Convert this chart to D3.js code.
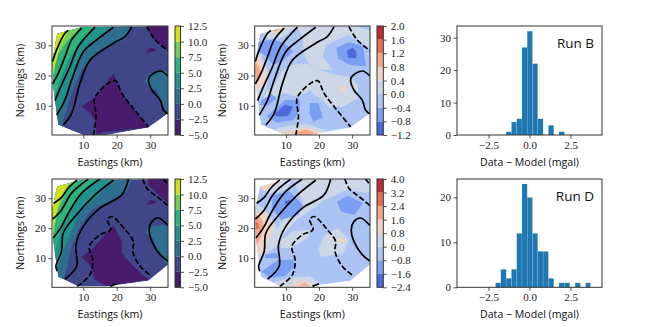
<!DOCTYPE html>
<html lang="en">
<head>
	<meta charset="UTF-8">
	<title>Run B and Run D residuals</title>
	<script src="https://d3js.org/d3.v7.min.js"></script>
	<style>
		body, html {
			margin: 0;
			padding: 0;
			background: #fff;
			overflow: hidden;
		}
		svg {
			display: block;
		}
		.tick text {
			font-family: "Liberation Serif", serif;
			font-size: 11px;
			fill: #222;
		}
		.tick line {
			stroke: #222;
			stroke-width: 0.8;
		}
		.frame {
			fill: none;
			stroke: #333;
			stroke-width: 1;
		}
		.axis-label {
			font-family: "Open Sans", sans-serif;
			font-size: 10.6px;
			fill: #111;
			text-anchor: middle;
		}
		.run-label {
			font-family: "Open Sans", sans-serif;
			font-size: 13.5px;
			fill: #111;
			text-anchor: end;
		}
	</style>
</head>
<body>
<div id="chart"></div>
	<script>
		// Colour levels of the contour plots
		const modelLevels = [-5, -2.5, 0, 2.5, 5, 7.5, 10, 12.5];
		const diffLevelsB = [-1.2, -0.8, -0.4, 0, 0.4, 0.8, 1.2, 1.6, 2];
		const diffLevelsD = [-2.4, -1.6, -0.8, 0, 0.8, 1.6, 2.4, 3.2, 4];
		const coolwarmBands = ["#4b69d9", "#7b9ff2", "#abc4f4", "#cdd7e8", "#f0d3c4", "#f5a98a", "#e5705a", "#bf2d30"];

		// Outline of the data area, in km [easting, northing]
		const hullRow1 = [[2.2,33.8],[9.5,36],[35.4,36.4],[35.4,7.5],[29.5,2.8],[17,0.3],[10,0.3],[2.5,3.6],[1,16.5],[0.8,25]];
		const hullRow2 = [[2.2,33.9],[9.5,36.1],[35.4,36.4],[35.4,7.9],[29.5,2.5],[17,0.6],[8.5,0.6],[2.5,3.8],[1,16.2],[0.8,26.7]];

		// Filled areas as [band index, polygon], painted in order over the base band
		const fillsRunA = [
			[2, [[24.5,36.4],[22.5,31.8],[18,30.1],[13,26.2],[9.5,21.8],[6.5,14.1],[5,8.6],[3.5,3.6],[-1,3.6],[-1,36.4]]],
			[2, [[28.2,18],[29.5,20.7],[35.4,21.5],[35.4,7.5],[34.5,8.6],[32,15.2],[30,15.7]]],
			[3, [[18.5,36.4],[17.5,35.1],[12,29.6],[9.5,27.3],[6.5,19.6],[4.5,13],[2.5,7.5],[-1,7.5],[-1,36.4]]],
			[4, [[14,36.4],[9,31.2],[5.5,25.1],[3,18.5],[1.5,13],[-1,13],[-1,36.4]]],
			[5, [[9.5,36.2],[5.5,31.8],[2.5,27.3],[1,20.7],[0.8,16.3],[-1,16.3],[-1,36.4]]],
			[6, [[2.2,33.8],[5.5,34.9],[3,29.6],[1.5,23.5],[0.8,19],[-1,19],[-1,33.8]]],
			[0, [[9.5,9.7],[13.5,12.8],[19,20.7],[20,18],[21.5,14.1],[25,9.1],[29.5,2.8],[16,1.3],[14,0.2],[13.5,5.2],[12,7.5]]],
			[0, [[29,36.4],[35.4,36.4],[35.4,28.2],[31.5,31.8]]],
			[0, [[28.7,27.3],[30,29.3],[32,28.5],[30.5,27.9]]]
		];
		const fillsRunC = [
			[2, [[24.5,36.4],[23,32.2],[19.5,30],[12.5,26.1],[9,20.6],[6.5,13.9],[5,6.2],[4,2.9],[-1,2.9],[-1,36.4]]],
			[2, [[28.5,18.4],[29.5,20.6],[35.4,21.1],[35.4,7.9],[34.5,8.4],[32,12.8],[31,16.7]]],
			[3, [[19,36.4],[17,33.9],[12,28.3],[9,26.1],[7,20.6],[4.5,13.9],[2.5,7.3],[-1,7.3],[-1,36.4]]],
			[4, [[14,36.4],[9,31.1],[5.5,25],[3,18.9],[1.5,11.7],[-1,11.7],[-1,36.4]]],
			[5, [[8.5,36.1],[5.5,32.8],[2.8,27.2],[1.5,21.1],[1,16.2],[-1,16.2],[-1,36.4]]],
			[6, [[2.2,33.9],[6,35.2],[3.5,31.1],[2,25.6],[1,19.5],[0.8,17.3],[-1,17.3],[-1,33.9]]],
			[0, [[9.5,10.4],[13,13.4],[19,21.1],[21.5,15.6],[21.5,11.7],[25,7.3],[29.5,2.9],[17,0.7],[13.5,2.9],[12.2,7.3]]],
			[0, [[29.5,36.4],[35.4,36.4],[35.4,28.3],[32,31.7],[29.5,34.4]]],
			[0, [[28.7,27.8],[30.2,29.4],[32.2,28.7],[30.5,28]]]
		];
		const fillsRunB = [
			[3, [[13.4,36.4],[36.2,36.4],[36.2,28.7],[28.7,33.4],[22.2,30.1],[21,26.2],[24.2,21.8],[19.7,22],[16.7,24.4],[15.2,27.3],[15.2,31.8]]],
			[3, [[1.7,8.6],[4.2,14.6],[6.7,16.9],[8.7,21.3],[11.2,23.5],[16.7,24],[20.2,21.8],[23.7,20.5],[29.2,19.6],[31.7,16.9],[31.7,12.4],[27.2,9.7],[23.2,9.4],[20.7,11.9],[17.2,15.2],[13.7,12.8],[10.2,14.1],[7.7,13.5],[4.2,12.5]]],
			[3, [[0.4,27.3],[2.2,27.3],[5,20.7],[4.2,15.7],[2.2,11.9],[0.4,14.1]]],
			[3, [[3.7,32.9],[6.2,36.4],[13.4,36.4],[10.7,34],[8.2,32.3],[5.2,32]]],
			[3, [[4.2,0.8],[8.2,2.8],[16.2,4.1],[23.2,1.4],[23.2,0]]],
			[2, [[30.7,36.4],[35.2,36.4],[35.2,35]]],
			[4, [[0.4,26.2],[2,26.2],[4.2,20.7],[3.2,16.9],[1.2,15.2],[0.4,16.9]]],
			[5, [[0.4,24.6],[1.4,24],[2.7,20.7],[1.7,18],[0.4,18]]],
			[6, [[0.4,23],[1,21.8],[0.8,19.6],[0.4,19.6]]],
			[4, [[5.2,35.1],[7.2,36],[10.7,36.2],[8.7,34.5],[6.2,33.8]]],
			[5, [[5.7,34.9],[8.2,35.6],[7.2,34.5]]],
			[1, [[1.4,30.9],[6.2,32],[9.7,30.7],[12.2,27.9],[8.7,24.6],[6.2,23.5],[4.2,26.2],[2.2,27.9]]],
			[1, [[25.2,29.3],[29.2,31],[33.2,29.8],[34.2,23],[29.2,23.5],[25.7,25.7]]],
			[0, [[28.4,28.2],[30.2,29.2],[31.2,27.9],[31.2,25.7],[28.7,25.9]]],
			[1, [[4.2,6.4],[9.7,11.9],[14.2,11.9],[14.2,8.6],[12.2,5.2],[7.2,4.4]]],
			[0, [[6.2,6.9],[9.7,10.2],[12.2,9.7],[10.7,6.6],[7.7,6.4]]],
			[1, [[2.7,11.9],[5.7,13.9],[7.2,12.4],[4.7,10.2],[2.2,10.2]]],
			[1, [[17.2,10.8],[19.7,11],[21.2,6],[18.2,4.7],[17.2,7.5]]],
			[4, [[7.2,1],[12.2,1.9],[16.2,2.8],[21.2,1],[21.2,0],[7.2,0]]],
			[5, [[12.7,1],[16.2,2.2],[19.2,0.6],[14.2,0.2]]],
			[4, [[25.7,15.7],[27.2,16.9],[28.7,15.2],[27.2,14.3]]]
		];
		const fillsRunD = [
			[3, [[12.2,36.4],[35.2,36.4],[35.2,31.7],[28.2,32.8],[21.7,29.4],[16.2,25],[13.2,22.8],[9.7,18.4],[8.2,15],[3.7,11.1],[2.2,11.1],[2.7,16.9],[6,18],[9.5,23],[15,29]]],
			[3, [[2.2,33],[6,36.4],[12.2,36.4],[10,33],[6,31.5]]],
			[3, [[0.4,28.3],[3.2,26.7],[7.2,21.1],[6.7,16.2],[2.7,10.1],[1.2,9.5],[0.4,10.1]]],
			[3, [[19.7,12.8],[21.7,17.8],[25.7,20],[29.2,16.2],[27.2,11.7],[20.7,10.4]]],
			[3, [[8.2,15.6],[12.2,18.9],[17.2,19.5],[16.7,16.7],[11.7,13.4],[8.7,13.4]]],
			[3, [[5,0],[6.2,1.8],[11.2,3.4],[17.2,4],[20.7,1.2],[20.7,0]]],
			[4, [[0.4,25],[3.7,25.6],[6.2,20.6],[4.7,15.6],[2.7,11.7],[1.2,10.6],[0.4,13.9]]],
			[5, [[0.4,24.5],[2.2,24],[3.7,20.6],[2.2,16.2],[1.2,14.5],[0.4,17.3]]],
			[6, [[0.4,23],[1.7,21.7],[2.2,20],[0.4,19.5]]],
			[4, [[2.2,33.9],[6.2,35.9],[8.7,36.1],[6.2,33.9],[3.2,32.2]]],
			[1, [[6.2,31.1],[11.2,32.2],[15.2,27.8],[13.7,24.5],[8.7,22.8],[5.7,26.7]]],
			[0, [[9.7,29],[11.2,29.5],[11.2,27.8],[10,27.8]]],
			[1, [[25.4,28.9],[28.7,30.8],[33.2,28.3],[30.7,24.4],[26.7,25.5]]],
			[1, [[2.7,5.6],[7.7,9.5],[12.2,9.5],[12.7,7.3],[9.7,4],[5.2,3.4]]],
			[1, [[3.7,11.2],[7.2,11.7],[7.7,10.1],[3.7,10.1]]],
			[4, [[10.2,0.4],[15.2,2.6],[19.2,0.9],[19.2,0],[10.2,0]]],
			[5, [[13.7,0.9],[15.7,1.8],[17.2,0.7]]],
			[4, [[25,16],[26.7,17.1],[28.2,15.6],[26.7,14.9]]]
		];

		// Black contour lines of the model, same for both maps of a row
		const solidLinesRow1 = [
			[[0.8,24.6],[2,28.5],[4.5,34],[5.5,34.9]],
			[[0.8,17.2],[2.5,20.7],[4.5,26.2],[6.5,31.8],[9.5,35.7]],
			[[1.5,11.7],[3.5,16.9],[6,22.9],[8.5,29.6],[13.5,36]],
			[[2,6.9],[4.5,11.9],[6.5,18.5],[10,27.9],[14,31.8],[19,36]],
			[[4,3.6],[6.5,7.5],[9,17.4],[12,25.1],[19,30.7],[22.5,32.9],[24.5,36.2]],
			[[35.4,19.8],[33,21.5],[30,19.8],[29.5,18.5],[30.5,15.2],[33,11.9],[34,8.6],[35.3,7.3]]
		];
		const dashedLinesRow1 = [
			[[29,36.2],[31.5,31.8],[35.4,28.2]],
			[[13,0.2],[13.8,6.4],[13.5,12.8],[19.5,18.3],[21.5,14.1],[25,9.1],[29.5,3]]
		];
		const solidLinesRow2 = [
			[[1.2,28.3],[3.5,30.3],[5.5,33.4],[8.2,36.1]],
			[[0.8,23],[3.5,26.1],[6.5,31.7],[11.5,36.4]],
			[[1,16.7],[3.5,20.6],[5.5,25],[9.5,31.7],[15,36.4]],
			[[2.2,5.7],[1.8,7.3],[3.5,12.3],[4,18.4],[7.5,23.9],[13.5,31.1],[19,36]],
			[[4.5,3],[8,7.3],[7.8,14.5],[10,20.6],[15,26.7],[21.5,31.1],[23.5,36.4]],
			[[35.4,9],[33,11.2],[30.5,15.6],[29.7,19.5],[30.5,22.2],[32.5,23.4],[35.4,20.8]],
			[[18,0.6],[20,1.5]]
		];
		const dashedLinesRow2 = [
			[[27.8,36.4],[29,33.3],[32,30.6],[35.4,27.5]],
			[[34,36.4],[35.4,34.4]],
			[[8.2,0.6],[12,4.5],[12.8,9.5],[11.8,13.9],[15,17.8],[18.2,19.5],[17.2,22.8],[18.5,23.9],[22.5,19.5],[25,15.6],[24.8,12.3],[27,7.3],[30.5,4]]
		];

		// Histograms of data minus model
		const histEdgesB = [-1.42, -1.1, -0.78, -0.46, -0.14, 0.18, 0.5, 0.83, 1.15, 1.48, 1.8, 2.13];
		const histCountsB = [1, 4, 5, 27, 32, 22, 5, 0, 3, 0, 1];
		const histEdgesD = [-2.07, -1.75, -1.42, -1.1, -0.78, -0.46, -0.14, 0.18, 0.5, 0.83, 1.15, 1.48, 1.8, 2.13, 2.45, 2.78, 3.1, 3.42, 3.72];
		const histCountsD = [1, 4, 2, 4, 12, 23, 20, 12, 8, 8, 2, 0, 1, 1, 0, 1, 0, 1];

		const svg = d3.select("#chart")
			.append("svg")
			.attr("width", 654)
			.attr("height", 327);

		let clipCount = 0;

		// Viridis sampled at the middle of each level band
		function viridisBands(levels) {
			const n = levels.length - 1;
			return d3.range(n).map(i => d3.interpolateViridis((i + 0.5) / n));
		}

		function addFrame(left, right, top, bottom) {
			svg.append("rect")
				.attr("class", "frame")
				.attr("x", left)
				.attr("y", top)
				.attr("width", right - left)
				.attr("height", bottom - top);
		}

		function styleAxis(g) {
			g.select(".domain").remove();
		}

		// Contour map: filled bands clipped to the hull, then the black lines
		function drawMap(box, hull, fills, baseBand, colors, solid, dashed) {
			const x = d3.scaleLinear().domain([0.63, 35.35]).range([box.left, box.right]);
			const y = d3.scaleLinear().domain([0.3, 36.4]).range([box.bottom, box.top]);
			const polygon = d3.line().x(d => x(d[0])).y(d => y(d[1])).curve(d3.curveLinearClosed);
			const contour = d3.line().x(d => x(d[0])).y(d => y(d[1])).curve(d3.curveCatmullRom);

			const hullId = "hull" + (clipCount++);
			const boxId = "box" + (clipCount++);
			const defs = svg.append("defs");
			defs.append("clipPath").attr("id", hullId)
				.append("path").attr("d", polygon(hull));
			defs.append("clipPath").attr("id", boxId)
				.append("rect")
				.attr("x", box.left)
				.attr("y", box.top)
				.attr("width", box.right - box.left)
				.attr("height", box.bottom - box.top);

			const area = svg.append("g").attr("clip-path", `url(#${boxId})`);
			const filled = area.append("g").attr("clip-path", `url(#${hullId})`);
			filled.append("path").attr("d", polygon(hull)).attr("fill", colors[baseBand]);
			filled.selectAll(".band")
				.data(fills)
				.enter()
				.append("path")
				.attr("class", "band")
				.attr("d", d => polygon(d[1]))
				.attr("fill", d => colors[d[0]]);

			area.selectAll(".solid")
				.data(solid)
				.enter()
				.append("path")
				.attr("class", "solid")
				.attr("d", contour)
				.attr("fill", "none")
				.attr("stroke", "#000")
				.attr("stroke-width", 1.7);
			area.selectAll(".dashed")
				.data(dashed)
				.enter()
				.append("path")
				.attr("class", "dashed")
				.attr("d", contour)
				.attr("fill", "none")
				.attr("stroke", "#000")
				.attr("stroke-width", 1.7)
				.attr("stroke-dasharray", "5.5,2.4");

			svg.append("g")
				.attr("transform", `translate(0,${box.bottom})`)
				.call(d3.axisBottom(x).tickValues([10, 20, 30]).tickSize(3.5).tickPadding(2.5))
				.call(styleAxis);
			svg.append("g")
				.attr("transform", `translate(${box.left},0)`)
				.call(d3.axisLeft(y).tickValues([10, 20, 30]).tickSize(3.5).tickPadding(2.5))
				.call(styleAxis);
			addFrame(box.left, box.right, box.top, box.bottom);

			svg.append("text")
				.attr("class", "axis-label")
				.attr("x", (box.left + box.right) / 2)
				.attr("y", box.bottom + 31)
				.text("Eastings (km)");
			svg.append("text")
				.attr("class", "axis-label")
				.attr("transform", `translate(${box.left - 28.5},${(box.top + box.bottom) / 2}) rotate(-90)`)
				.text("Northings (km)");
		}

		function drawColorbar(box, levels, colors, format) {
			const y = d3.scaleLinear().domain(d3.extent(levels)).range([box.bottom, box.top]);
			svg.selectAll(null)
				.data(colors)
				.enter()
				.append("rect")
				.attr("x", box.left)
				.attr("width", box.right - box.left)
				.attr("y", (d, i) => y(levels[i + 1]))
				.attr("height", (d, i) => y(levels[i]) - y(levels[i + 1]))
				.attr("fill", d => d);
			svg.append("g")
				.attr("transform", `translate(${box.right},0)`)
				.call(d3.axisRight(y).tickValues(levels).tickFormat(format).tickSize(3.5).tickPadding(4))
				.call(styleAxis);
			addFrame(box.left, box.right, box.top, box.bottom);
		}

		function drawHist(box, edges, counts, yMax, yTicks, name) {
			const x = d3.scaleLinear().domain([-4.42, 4.42]).range([box.left, box.right]);
			const y = d3.scaleLinear().domain([0, yMax]).range([box.bottom, box.top]);
			svg.selectAll(null)
				.data(counts)
				.enter()
				.append("rect")
				.attr("x", (d, i) => x(edges[i]))
				.attr("width", (d, i) => x(edges[i + 1]) - x(edges[i]))
				.attr("y", d => y(d))
				.attr("height", d => y(0) - y(d))
				.attr("fill", "#1f77b4")
				.attr("stroke", "#fff")
				.attr("stroke-opacity", 0.2)
				.attr("stroke-width", 0.5);
			svg.append("g")
				.attr("transform", `translate(0,${box.bottom})`)
				.call(d3.axisBottom(x).tickValues([-2.5, 0, 2.5]).tickFormat(d3.format(".1f")).tickSize(3.5).tickPadding(2.5))
				.call(styleAxis);
			svg.append("g")
				.attr("transform", `translate(${box.left},0)`)
				.call(d3.axisLeft(y).tickValues(yTicks).tickSize(3.5).tickPadding(2.5))
				.call(styleAxis);
			addFrame(box.left, box.right, box.top, box.bottom);
			svg.append("text")
				.attr("class", "axis-label")
				.attr("x", (box.left + box.right) / 2)
				.attr("y", box.bottom + 31)
				.text("Data \u2212 Model (mgal)");
			svg.append("text")
				.attr("class", "run-label")
				.attr("x", box.right - 8)
				.attr("y", box.top + 22)
				.text(name);
		}

		const row1 = { top: 26, bottom: 135 };
		const row2 = { top: 179, bottom: 287.3 };
		const fmtOne = d3.format(".1f");
		const modelColors = viridisBands(modelLevels);

		drawMap({ left: 52, right: 168, ...row1 }, hullRow1, fillsRunA, 1, modelColors, solidLinesRow1, dashedLinesRow1);
		drawColorbar({ left: 175, right: 180.5, ...row1 }, modelLevels, modelColors, fmtOne);
		drawMap({ left: 254.7, right: 370, ...row1 }, hullRow1, fillsRunB, 2, coolwarmBands, solidLinesRow1, dashedLinesRow1);
		drawColorbar({ left: 377, right: 383.3, ...row1 }, diffLevelsB, coolwarmBands, fmtOne);
		drawHist({ left: 457, right: 602, ...row1 }, histEdgesB, histCountsB, 33.6, [0, 10, 20, 30], "Run B");

		drawMap({ left: 52, right: 168, ...row2 }, hullRow2, fillsRunC, 1, modelColors, solidLinesRow2, dashedLinesRow2);
		drawColorbar({ left: 175, right: 180.5, ...row2 }, modelLevels, modelColors, fmtOne);
		drawMap({ left: 254.7, right: 370, ...row2 }, hullRow2, fillsRunD, 2, coolwarmBands, solidLinesRow2, dashedLinesRow2);
		drawColorbar({ left: 377, right: 383.3, ...row2 }, diffLevelsD, coolwarmBands, fmtOne);
		drawHist({ left: 457, right: 602, ...row2 }, histEdgesD, histCountsD, 24.1, [0, 10, 20], "Run D");
	</script>
</body>
</html>
